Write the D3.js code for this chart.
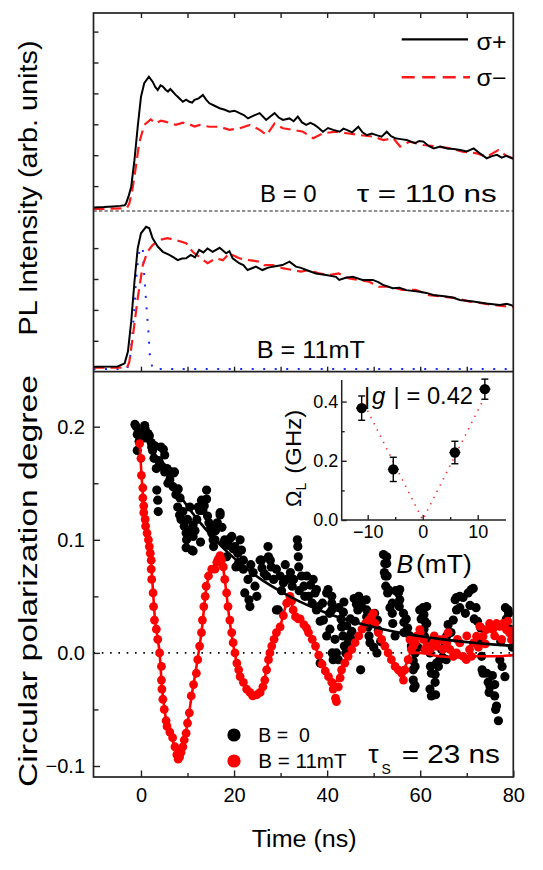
<!DOCTYPE html>
<html><head><meta charset="utf-8">
<script src="https://cdn.jsdelivr.net/npm/d3@7"></script>
<style>
html,body{margin:0;padding:0;background:#fff;}
svg{display:block;font-family:"Liberation Sans",Arial,sans-serif;}
</style></head><body>
<svg id="c" width="543" height="870"></svg>
<script>
// ---------------- DATA ----------------
// PL traces (arb. units), [time ns, intensity]
const plB0Plus = [[-10.2,0.31],[-8,0.32],[-6,0.34],[-4.5,0.36],[-3.5,0.38],[-3.2,0.44],[-2.6,0.7],[-2.1,0.98],[-1.4,1.84],[-0.7,2.92],[0,3.89],[0.7,4.33],[1.7,4.54],[2.5,4.38],[3.1,4.2],[3.6,4.11],[4.2,4.26],[4.7,4.22],[5.3,4.12],[5.8,4.06],[6.3,4.14],[6.8,4.06],[7.4,3.96],[7.9,3.89],[8.5,3.80],[9.0,3.73],[9.7,3.80],[10.4,3.73],[11.0,3.70],[11.5,3.79],[12.4,3.84],[13.3,3.95],[14.0,3.80],[14.7,3.68],[15.8,3.60],[16.9,3.52],[18,3.47],[19,3.41],[20.1,3.44],[21.2,3.36],[22.1,3.30],[23,3.19],[24.2,3.28],[25.5,3.36],[26.9,3.14],[27.8,3.25],[28.7,3.36],[29.6,3.22],[30.5,3.14],[31.9,3.19],[32.8,3.10],[33.7,3.25],[34.6,3.06],[35.5,2.98],[36.4,3.05],[37.3,2.98],[38.2,2.88],[39.1,2.76],[40.2,2.88],[41.3,2.82],[42.7,2.76],[43.5,2.86],[44.2,2.82],[45.4,2.74],[46.7,2.92],[47.6,2.74],[48.5,2.65],[49.6,2.70],[50.6,2.65],[51.7,2.60],[52.8,2.76],[53.7,2.62],[54.6,2.55],[55.8,2.52],[57.1,2.49],[58.0,2.44],[58.9,2.39],[59.8,2.46],[60.7,2.44],[61.8,2.30],[62.9,2.22],[64.3,2.28],[65.8,2.22],[67.2,2.20],[68.6,2.17],[70.0,2.12],[71.5,2.22],[72.9,2.05],[74.3,1.90],[75.4,1.97],[76.5,2.01],[77.5,1.92],[78.5,1.98],[80,1.88]];
const plB0Minus = [[-10.2,0.26],[-6,0.27],[-3,0.29],[-2.5,0.44],[-1.9,0.85],[-1.4,1.30],[-0.4,2.39],[0.7,2.98],[2.1,3.16],[3.2,3.03],[4.3,3.12],[5.4,3.08],[6.5,3.03],[7.5,2.98],[9.0,3.05],[10.4,3.00],[11.5,2.93],[12.6,2.98],[14.7,2.92],[16.9,2.92],[19,2.82],[21.2,2.87],[23.4,2.98],[25.5,2.82],[27,2.65],[28.7,3.03],[30.5,2.87],[32.7,2.82],[34.8,2.76],[37,2.55],[39.1,2.71],[42,2.76],[44.2,2.71],[47,2.65],[49.9,2.60],[52.1,2.49],[54.2,2.55],[55.7,2.28],[57.8,2.44],[60.7,2.33],[63.6,2.28],[66.5,2.22],[69.3,2.11],[72.2,2.06],[74.3,1.95],[76.8,2.17],[78.5,1.98],[80,1.90]];
const plB11Plus = [[-10.2,0.16],[-5,0.17],[-3.5,0.27],[-2.8,0.65],[-2.1,1.62],[-1.4,2.91],[-0.7,3.99],[0,4.48],[1.1,4.69],[1.8,4.64],[2.5,4.32],[3.6,4.05],[4.7,3.88],[6.1,3.78],[7.0,3.70],[7.9,3.61],[8.8,3.66],[9.7,3.67],[10.7,3.78],[11.6,3.70],[12.5,3.94],[13.4,3.86],[14.3,3.99],[15.4,3.88],[16.9,4.01],[17.6,3.92],[18.3,3.83],[19.0,3.90],[19.7,3.67],[21.1,3.51],[22.0,3.45],[22.9,3.29],[24.7,3.40],[26.1,3.29],[27.2,3.36],[28.3,3.40],[30.4,3.45],[31.9,3.56],[33.3,3.40],[34.4,3.36],[35.5,3.29],[37.6,3.18],[39.8,3.13],[41.9,3.07],[42.6,2.97],[44.0,3.04],[45.5,3.07],[47.6,2.97],[49.8,2.97],[51.0,2.90],[52,2.81],[54.1,2.70],[55.5,2.72],[57,2.64],[59.9,2.59],[61.3,2.55],[62.8,2.48],[65.6,2.43],[67.0,2.40],[68.5,2.32],[71.4,2.27],[74.2,2.21],[77.1,2.16],[78.6,2.20],[80,2.13]];
const plB11Minus = [[-10.2,0.13],[-3,0.13],[-2.5,0.32],[-1.8,1.08],[-0.7,2.38],[0.4,3.45],[1.4,3.88],[2.5,4.10],[3.9,4.26],[5.7,4.32],[7.5,4.26],[9.7,4.16],[11.1,3.88],[12.9,3.67],[14.3,3.51],[16.1,3.67],[17.6,3.61],[19,3.83],[21.1,3.67],[23.3,3.61],[25.5,3.56],[26.5,3.45],[28.3,3.45],[30.4,3.35],[32.6,3.29],[34.4,3.24],[36.1,3.29],[38.3,3.18],[40.4,3.13],[42.5,3.18],[44.7,3.02],[46.8,2.97],[49,2.91],[51.1,2.75],[53.6,2.75],[56.1,2.65],[59,2.65],[61.9,2.48],[64.8,2.43],[67.7,2.38],[70.6,2.27],[73.5,2.21],[75.7,2.16],[79.3,2.10],[80,2.09]];
const laserPulse = [[-10.2,0.09],[-3,0.09],[-2.4,0.35],[-1.8,1.29],[-1.4,2.05],[-1.1,2.91],[-0.5,3.78],[0,4.05],[0.4,3.94],[0.7,3.13],[1.2,2.06],[1.6,1.29],[1.9,0.54],[2.5,0.09],[80,0.09]];

// circular polarization degree, B = 0 (points)
const polB0 = [[-1.3,0.202],[-1.0,0.200],[-0.8,0.193],[-0.4,0.187],[-0.8,0.179],[0.2,0.195],[0.8,0.201],[0.9,0.198],[1.0,0.190],[1.5,0.194],[1.8,0.192],[2.2,0.186],[2.3,0.182],[2.5,0.179],[2.8,0.172],[3.0,0.183],[3.3,0.163],[3.4,0.144],[3.6,0.135],[3.7,0.125],[3.8,0.170],[4.0,0.168],[4.3,0.182],[4.5,0.165],[4.8,0.180],[5.1,0.175],[5.1,0.160],[5.6,0.163],[5.8,0.150],[6.2,0.153],[6.5,0.160],[6.9,0.147],[7.0,0.159],[7.2,0.160],[7.5,0.140],[7.9,0.129],[8.0,0.145],[8.3,0.122],[8.4,0.137],[8.6,0.118],[9.0,0.125],[9.3,0.112],[9.7,0.106],[9.7,0.093],[9.8,0.100],[10.0,0.118],[10.2,0.108],[10.5,0.129],[10.9,0.091],[11.2,0.113],[11.2,0.103],[11.2,0.090],[11.6,0.108],[12.0,0.118],[12.3,0.129],[12.6,0.126],[12.8,0.098],[13.0,0.135],[13.3,0.126],[13.6,0.130],[14.1,0.144],[14.1,0.136],[14.3,0.121],[14.6,0.115],[15.0,0.111],[15.2,0.106],[15.5,0.100],[15.6,0.094],[15.9,0.100],[16.0,0.108],[16.4,0.115],[17.0,0.122],[17.0,0.124],[17.4,0.111],[17.7,0.097],[18.0,0.100],[18.4,0.085],[18.8,0.095],[19.1,0.101],[19.5,0.103],[19.8,0.092],[20.2,0.094],[20.4,0.076],[20.8,0.088],[21.0,0.080],[21.3,0.100],[21.6,0.091],[22.0,0.082],[22.0,0.074],[22.3,0.053],[23.0,0.065],[23.2,0.047],[23.4,0.041],[23.6,0.078],[24.1,0.071],[24.5,0.059],[24.9,0.050],[25.6,0.082],[25.9,0.082],[26.0,0.075],[26.5,0.070],[27.0,0.068],[27.3,0.094],[27.4,0.085],[27.8,0.082],[28.0,0.076],[28.5,0.065],[29.1,0.074],[29.1,0.038],[29.5,0.038],[29.9,0.068],[30.2,0.055],[30.6,0.062],[31.0,0.078],[31.3,0.065],[32.1,0.071],[32.5,0.059],[32.8,0.065],[33.6,0.100],[33.7,0.094],[33.8,0.085],[33.9,0.076],[34.0,0.055],[34.5,0.068],[35.0,0.059],[35.2,0.050],[35.6,0.068],[36.0,0.050],[36.4,0.060],[36.8,0.044],[37.0,0.065],[37.4,0.053],[37.7,0.056],[37.7,0.038],[38.2,0.041],[38.5,0.028],[38.5,-0.009],[39.0,0.044],[39.2,0.029],[39.9,0.053],[39.9,0.015],[40.2,0.056],[40.5,0.035],[40.6,0.021],[41.0,0.050],[41.0,0.044],[41.0,0.038],[41.1,0.0],[41.3,-0.006],[41.7,0.012],[42.0,0.0],[42.4,-0.006],[42.5,0.040],[43.0,0.030],[43.1,0.023],[43.4,0.015],[43.5,0.036],[43.6,0.045],[43.7,0.006],[44.0,0.0],[44.2,0.024],[44.6,0.010],[44.8,0.015],[45.0,0.030],[45.3,0.019],[45.3,0.012],[45.8,0.048],[46.0,0.028],[46.3,0.043],[46.6,0.038],[46.8,0.050],[47.0,0.047],[47.2,-0.015],[47.4,0.041],[48.4,0.047],[48.5,0.038],[48.5,0.032],[48.8,0.023],[49.0,0.015],[49.2,0.009],[49.8,0.030],[50.0,0.005],[50.2,0.035],[50.7,0.0],[50.8,0.029],[51.0,0.020],[51.5,0.010],[52.1,0.087],[52.4,0.079],[52.3,0.071],[52.5,0.068],[52.6,0.059],[52.8,0.085],[52.8,0.079],[52.9,0.068],[53.1,0.056],[53.0,0.053],[53.5,0.040],[54.0,0.044],[54.0,0.035],[54.1,0.026],[54.6,0.015],[54.7,0.055],[55.3,0.053],[55.5,0.041],[55.6,0.056],[55.6,0.047],[56.4,0.035],[56.5,0.027],[56.5,0.018],[57.0,0.030],[57.3,0.022],[57.8,0.015],[58.1,0.006],[58.5,-0.007],[58.5,-0.015],[58.5,-0.024],[58.6,-0.031],[58.9,0.0],[58.9,-0.012],[58.9,-0.029],[59.5,0.005],[59.9,0.038],[60.2,0.030],[60.6,0.040],[60.8,0.034],[61.0,0.028],[60.8,0.021],[60.9,0.015],[61.4,0.041],[61.4,0.026],[61.8,0.010],[62.1,0.0],[62.2,-0.012],[62.4,-0.018],[62.1,-0.032],[62.4,-0.038],[62.8,0.006],[63.2,-0.019],[63.2,-0.026],[63.3,-0.037],[63.5,-0.009],[63.9,-0.012],[64.2,-0.006],[64.6,0.003],[64.8,-0.004],[65.3,0.009],[65.6,-0.006],[65.7,0.015],[66.0,0.025],[66.6,0.018],[67.1,0.029],[67.5,0.047],[67.8,0.038],[67.8,0.049],[68.5,0.050],[68.5,0.040],[69.2,0.049],[69.7,0.035],[70.3,0.053],[70.7,0.042],[71.0,0.056],[71.4,0.057],[71.6,0.030],[72.0,0.040],[72.3,0.028],[72.6,0.012],[73.0,0.022],[73.2,-0.003],[73.3,-0.015],[73.5,-0.018],[74.3,-0.018],[74.6,-0.026],[74.8,-0.035],[75.0,-0.030],[75.5,-0.020],[76.0,-0.038],[76.0,-0.028],[76.2,-0.050],[76.4,-0.047],[76.8,-0.060],[77.1,-0.006],[77.3,0.010],[77.6,-0.012],[78.2,-0.021],[78.3,0.040],[78.5,0.030],[78.9,0.038],[79.0,0.035],[79.3,0.021],[79.8,0.005],[80.0,0.012]];

// circular polarization degree, B = 11 mT (points)
const polB11 = [[-0.3,0.185],[0.0,0.172],[0.1,0.157],[0.4,0.146],[0.4,0.137],[0.6,0.130],[0.6,0.124],[0.9,0.118],[1.0,0.112],[1.3,0.106],[1.6,0.100],[1.8,0.094],[2.0,0.088],[2.2,0.082],[2.2,0.074],[2.3,0.065],[2.6,0.053],[2.7,0.041],[2.9,0.029],[3.3,0.021],[3.6,0.012],[4.0,0.0],[4.4,-0.012],[4.4,-0.024],[4.5,-0.032],[4.7,-0.041],[5.0,-0.050],[5.4,-0.060],[5.6,-0.065],[6.2,-0.070],[6.8,-0.075],[7.3,-0.083],[7.7,-0.090],[8.0,-0.094],[8.3,-0.092],[8.6,-0.088],[9.0,-0.083],[9.3,-0.077],[9.7,-0.071],[10.0,-0.062],[10.4,-0.053],[10.8,-0.038],[11.3,-0.028],[11.9,-0.018],[12.2,-0.006],[12.6,0.006],[13.0,0.018],[13.2,0.029],[13.5,0.041],[13.8,0.050],[14.0,0.059],[14.5,0.068],[15.2,0.074],[15.9,0.074],[16.3,0.080],[16.6,0.083],[17.0,0.086],[17.3,0.082],[17.7,0.076],[18.0,0.065],[18.4,0.053],[18.7,0.041],[19.1,0.029],[19.5,0.018],[19.8,0.009],[20.2,0.0],[20.6,-0.009],[21.0,-0.015],[21.3,-0.021],[22.0,-0.026],[22.7,-0.032],[23.4,-0.035],[24.0,-0.038],[24.9,-0.037],[25.6,-0.035],[26.2,-0.030],[26.6,-0.024],[27.0,-0.015],[27.4,-0.006],[27.7,0.0],[28.1,0.006],[28.6,0.012],[29.1,0.018],[29.9,0.023],[30.6,0.033],[31.3,0.044],[32.0,0.050],[32.4,0.046],[32.7,0.038],[33.2,0.032],[33.8,0.030],[34.2,0.030],[35.0,0.025],[35.6,0.022],[36.0,0.018],[36.8,0.012],[37.5,0.006],[38.2,-0.002],[38.9,-0.010],[39.6,-0.016],[40.3,-0.021],[41.0,-0.026],[41.3,-0.032],[41.8,-0.040],[42.0,-0.043],[42.4,-0.030],[42.8,-0.022],[43.1,-0.015],[43.8,-0.009],[44.5,-0.003],[45.3,0.003],[46.0,0.009],[46.8,0.015],[47.5,0.021],[48.2,0.026],[48.9,0.029],[49.5,0.032],[49.9,0.035],[50.3,0.026],[51.0,0.018],[51.7,0.012],[52.4,0.006],[53.1,0.0],[53.8,-0.006],[54.6,-0.012],[55.3,-0.015],[56.0,-0.018],[56.4,-0.024],[56.7,-0.015],[57.4,-0.006],[57.8,0.0117],[58.1,0.003],[58.5,0.0059],[58.9,0.009],[59.2,0.0147],[59.9,0.0206],[60.0,0.018],[60.7,0.0117],[61.0,0.003],[61.4,0.0059],[62.1,0.003],[62.8,0.0088],[63.0,0.015],[63.5,0.0059],[64.2,0.0117],[64.9,0.003],[65.0,0.012],[65.7,0.0088],[66.0,0.018],[66.4,0.003],[67.1,-0.003],[67.8,0.0],[68.0,0.012],[68.5,0.0088],[69.2,-0.003],[69.9,-0.006],[70.0,0.015],[70.6,0.003],[71.0,-0.003],[71.4,0.0088],[72.1,0.0147],[72.5,0.005],[72.8,0.0235],[73.5,0.0147],[74.0,0.008],[74.2,0.0206],[74.9,0.026],[75.6,0.0206],[76.0,0.015],[76.4,0.026],[77.1,0.0235],[77.5,0.012],[77.8,0.026],[78.5,0.0206],[78.8,0.028],[79.2,0.0177],[79.6,0.0117],[80.0,0.020]];

// fit curves
const fitB0 = [[1,0.1915],[2,0.1833],[4,0.1681],[8,0.1413],[12,0.1187],[16,0.0998],[20,0.0838],[24,0.0704],[28,0.0592],[32,0.0498],[36,0.0418],[40,0.0351],[44,0.0295],[48,0.0248],[52,0.0209],[56,0.0175],[60,0.0147],[64,0.0124],[68,0.0104],[72,0.0087],[76,0.0073],[80,0.0062]];
const fitB11 = [[-0.3,0.185],[0,0.165],[0.5,0.135],[1,0.115],[1.5,0.103],[2,0.088],[2.5,0.060],[3,0.030],[3.5,0.015],[4,0.0],[4.5,-0.030],[5,-0.048],[5.5,-0.062],[6,-0.069],[7,-0.080],[8,-0.094],[8.5,-0.090],[9,-0.083],[10,-0.062],[11,-0.035],[12,-0.010],[13,0.018],[14,0.056],[15,0.073],[16,0.078],[17,0.085],[17.5,0.079],[18,0.065],[19,0.030],[20,0.003],[21,-0.016],[22,-0.026],[23,-0.034],[24,-0.038],[25,-0.036],[26,-0.030],[27,-0.015],[28,0.005],[29,0.017],[30,0.025],[31,0.040],[32,0.050],[32.7,0.038],[34,0.030],[35,0.025],[36,0.018],[37,0.009],[38,0.0],[39,-0.011],[40,-0.019],[41,-0.026],[42,-0.025],[43,-0.015],[44,-0.006],[45,0.002],[46,0.009],[47,0.017],[48,0.026],[49,0.030],[50,0.030],[51,0.018],[52,0.009],[53,0.0],[54,-0.007],[55,-0.013],[56,-0.018],[57,-0.010],[58,0.0],[60,0.0],[64,-0.003],[68,-0.004],[72,-0.003],[76,-0.003],[80,-0.002]];

// inset: Larmor frequency vs field
const insetB = [-11.1, -5.35, 5.85, 11.3];
const insetOmega = [0.378, 0.171, 0.228, 0.442];
const insetErr = [0.041, 0.041, 0.038, 0.034];
const insetBErr = [1.0, 1.0, 1.0, 1.0];
const insetFit = [[-10.6,0.391],[0,0],[11.0,0.406]];

const xTicksMajor = [0, 20, 40, 60, 80];
const xTicksMinor = [10, 30, 50, 70];
const yPolMajor = [-0.1, 0.0, 0.1, 0.2];
const yPolMinor = [-0.05, 0.05, 0.15];

// ---------------- DRAW ----------------
const svg = d3.select("#c");
const L = 93.5, R = 513.3, T = 13, MID = 211, SEP = 371.7, B = 777;
const frameCol = "#222";

const x = d3.scaleLinear().domain([-10.2, 80]).range([L, R]);
const yTop = d3.scaleLinear().domain([0, 6]).range([217, 31.6]);
const yMid = d3.scaleLinear().domain([0, 4]).range([SEP, 248.1]);
const yPol = d3.scaleLinear().domain([-0.1, 0.2]).range([766, 426.7]);

const defs = svg.append("defs");
function clip(id, y0, y1) {
  defs.append("clipPath").attr("id", id).append("rect")
    .attr("x", L).attr("y", y0).attr("width", R - L).attr("height", y1 - y0);
}
clip("cTop", T, MID); clip("cMid", MID, SEP); clip("cBot", SEP, B);

const lineTop = d3.line().x(d => x(d[0])).y(d => yTop(d[1]));
const lineMid = d3.line().x(d => x(d[0])).y(d => yMid(d[1]));

// --- top panel (B = 0)
const gTop = svg.append("g").attr("clip-path", "url(#cTop)");
gTop.append("path").attr("d", lineTop(plB0Minus)).attr("fill", "none")
  .attr("stroke", "#ff1a1a").attr("stroke-width", 2.2).attr("stroke-dasharray", "11,6");
gTop.append("path").attr("d", lineTop(plB0Plus)).attr("fill", "none")
  .attr("stroke", "#000").attr("stroke-width", 2);

// --- middle panel (B = 11 mT)
const gMid = svg.append("g").attr("clip-path", "url(#cMid)");
gMid.append("path").attr("d", lineMid(laserPulse)).attr("fill", "none")
  .attr("stroke", "#1a2cff").attr("stroke-width", 2).attr("stroke-dasharray", "2,9.5");
gMid.append("path").attr("d", lineMid(plB11Minus)).attr("fill", "none")
  .attr("stroke", "#ff1a1a").attr("stroke-width", 2.2).attr("stroke-dasharray", "11,6");
gMid.append("path").attr("d", lineMid(plB11Plus)).attr("fill", "none")
  .attr("stroke", "#000").attr("stroke-width", 2);

// dashed separator
svg.append("line").attr("x1", L).attr("x2", R).attr("y1", MID).attr("y2", MID)
  .attr("stroke", "#222").attr("stroke-width", 1).attr("stroke-dasharray", "3.3,2.2");

// --- bottom panel
const gBot = svg.append("g").attr("clip-path", "url(#cBot)");
gBot.append("line").attr("x1", L).attr("x2", R).attr("y1", yPol(0)).attr("y2", yPol(0))
  .attr("stroke", "#000").attr("stroke-width", 1.6).attr("stroke-dasharray", "1.6,6.7");
gBot.append("g").selectAll("circle").data(polB0).join("circle")
  .attr("cx", d => x(d[0])).attr("cy", d => yPol(d[1])).attr("r", 4.6).attr("fill", "#000");
gBot.append("g").selectAll("circle").data(polB11).join("circle")
  .attr("cx", d => x(d[0])).attr("cy", d => yPol(d[1])).attr("r", 4.4).attr("fill", "#ff0000");
const linePol = d3.line().x(d => x(d[0])).y(d => yPol(d[1])).curve(d3.curveMonotoneX);
gBot.append("path").attr("d", linePol(fitB11)).attr("fill", "none")
  .attr("stroke", "#ff0000").attr("stroke-width", 2.6);
gBot.append("path").attr("d", linePol(fitB0)).attr("fill", "none")
  .attr("stroke", "#000").attr("stroke-width", 2.6);

// --- axes / ticks
function styleAxis(g) {
  g.select(".domain").remove();
  g.selectAll(".tick line").attr("stroke", frameCol).attr("stroke-width", 1.4);
  g.selectAll("text").attr("fill", "#000").attr("font-family", '"Liberation Sans",Arial,sans-serif');
}
// bottom time axis
svg.append("g").attr("transform", `translate(0,${B})`)
  .call(d3.axisBottom(x).tickValues(xTicksMajor).tickSize(-6.5).tickPadding(10.5).tickFormat(d3.format("d")))
  .call(styleAxis).call(g => g.selectAll("text").attr("font-size", 20));
svg.append("g").attr("transform", `translate(0,${B})`)
  .call(d3.axisBottom(x).tickValues(xTicksMinor).tickSize(-4).tickFormat(""))
  .call(styleAxis);
// polarization y axis
svg.append("g").attr("transform", `translate(${L},0)`)
  .call(d3.axisLeft(yPol).tickValues(yPolMajor).tickSize(-6.5).tickPadding(8.5).tickFormat(d3.format(".1f")))
  .call(styleAxis).call(g => g.selectAll("text").attr("font-size", 20));
svg.append("g").attr("transform", `translate(${L},0)`)
  .call(d3.axisLeft(yPol).tickValues(yPolMinor).tickSize(-5).tickFormat(""))
  .call(styleAxis);
// PL y ticks (no labels)
svg.append("g").attr("transform", `translate(${L},0)`)
  .call(d3.axisLeft(yTop).tickValues([1, 2, 3, 4, 5, 6]).tickSize(-5).tickFormat(""))
  .call(styleAxis);
svg.append("g").attr("transform", `translate(${L},0)`)
  .call(d3.axisLeft(yMid).tickValues([1, 2, 3, 4]).tickSize(-5).tickFormat(""))
  .call(styleAxis);
// time ticks at top of frame and bottom of PL panel
const plTimeTicks = [0, 10, 20, 30, 40, 50, 60, 70];
svg.append("g").attr("transform", `translate(0,${T})`)
  .call(d3.axisTop(x).tickValues(plTimeTicks).tickSize(-5).tickFormat(""))
  .call(styleAxis);
svg.append("g").attr("transform", `translate(0,${SEP})`)
  .call(d3.axisBottom(x).tickValues(plTimeTicks).tickSize(-5).tickFormat(""))
  .call(styleAxis);

// frame
svg.append("rect").attr("x", L).attr("y", T).attr("width", R - L).attr("height", B - T)
  .attr("fill", "none").attr("stroke", frameCol).attr("stroke-width", 1.7);
svg.append("line").attr("x1", L).attr("x2", R).attr("y1", SEP).attr("y2", SEP)
  .attr("stroke", frameCol).attr("stroke-width", 1.7);

// --- texts
function txt(s, xx, yy, size, opts = {}) {
  const t = svg.append("text").attr("x", xx).attr("y", yy).attr("font-size", size)
    .attr("fill", "#000").text(s);
  if (opts.anchor) t.attr("text-anchor", opts.anchor);
  if (opts.len) t.attr("textLength", opts.len).attr("lengthAdjust", "spacingAndGlyphs");
  if (opts.italic) t.attr("font-style", "italic");
  return t;
}
// legend top
svg.append("line").attr("x1", 401.7).attr("x2", 468).attr("y1", 39.3).attr("y2", 39.3)
  .attr("stroke", "#000").attr("stroke-width", 2.2);
svg.append("line").attr("x1", 401.7).attr("x2", 470).attr("y1", 77.3).attr("y2", 77.3)
  .attr("stroke", "#ff1a1a").attr("stroke-width", 2.4).attr("stroke-dasharray", "13,7.5");
txt("σ+", 476.5, 50, 23, {len: 30});
txt("σ−", 476.5, 86, 23, {len: 30});
txt("B = 0", 260, 201.7, 23, {len: 56.7});
txt("τ = 110 ns", 356.7, 201.7, 23.5, {len: 140});
txt("B = 11mT", 256.7, 358.3, 23, {len: 108.3});

// bottom legend
svg.append("circle").attr("cx", 234).attr("cy", 735).attr("r", 6.6).attr("fill", "#000");
svg.append("circle").attr("cx", 234).attr("cy", 761).attr("r", 6.6).attr("fill", "#ff0000");
txt("B =  0", 258.3, 742.3, 19.5).attr("xml:space", "preserve").style("white-space", "pre");
txt("B = 11mT", 258.3, 768.3, 19.5, {len: 88.3});
txt("τ", 368.3, 763.3, 26);
txt("S", 381.5, 774.3, 14);
txt("= 23 ns", 401.7, 763.3, 26, {len: 98.3});

// axis titles
txt("Time (ns)", 304.2, 846.7, 23, {anchor: "middle", len: 105});
svg.append("text").attr("transform", "translate(37,188) rotate(-90)")
  .attr("text-anchor", "middle").attr("font-size", 26).attr("textLength", 295)
  .attr("lengthAdjust", "spacingAndGlyphs").text("PL Intensity (arb. units)");
svg.append("text").attr("transform", "translate(37,581) rotate(-90)")
  .attr("text-anchor", "middle").attr("font-size", 26).attr("textLength", 412)
  .attr("lengthAdjust", "spacingAndGlyphs").text("Circular polarization degree");

// --- inset
const xIn = d3.scaleLinear().domain([-10, 10]).range([367.7, 477.7]);
const yIn = d3.scaleLinear().domain([0, 0.4]).range([520, 401.6]);
const inL = 341.7, inR = 506, inT = 380, inB = 520;
const gIn = svg.append("g");
gIn.append("path").attr("d", d3.line().x(d => xIn(d[0])).y(d => yIn(d[1]))(insetFit))
  .attr("fill", "none").attr("stroke", "#ff3030").attr("stroke-width", 1.6)
  .attr("stroke-dasharray", "1.5,5.5");
gIn.append("g").attr("transform", `translate(0,${inB})`)
  .call(d3.axisBottom(xIn).tickValues([-10, 0, 10]).tickSize(-5).tickPadding(5.5).tickFormat(d3.format("d")))
  .call(styleAxis).call(g => g.selectAll("text").attr("font-size", 18));
gIn.append("g").attr("transform", `translate(0,${inB})`)
  .call(d3.axisBottom(xIn).tickValues([-5, 5]).tickSize(-3).tickFormat(""))
  .call(styleAxis);
gIn.append("g").attr("transform", `translate(${inL},0)`)
  .call(d3.axisLeft(yIn).tickValues([0, 0.2, 0.4]).tickSize(-5).tickPadding(3.4).tickFormat(d3.format(".1f")))
  .call(styleAxis).call(g => g.selectAll("text").attr("font-size", 18));
gIn.append("g").attr("transform", `translate(${inL},0)`)
  .call(d3.axisLeft(yIn).tickValues([0.1, 0.3]).tickSize(-3).tickFormat(""))
  .call(styleAxis);
gIn.append("path").attr("d", `M${inL},${inT}V${inB}H${inR}`).attr("fill", "none")
  .attr("stroke", frameCol).attr("stroke-width", 1.5);
const pts = insetB.map((b, i) => ({b, w: insetOmega[i], e: insetErr[i], eb: insetBErr[i]}));
const gp = gIn.append("g");
pts.forEach(p => {
  const cx = xIn(p.b), cy = yIn(p.w), y0 = yIn(p.w - p.e), y1 = yIn(p.w + p.e);
  gp.append("line").attr("x1", cx).attr("x2", cx).attr("y1", y0).attr("y2", y1).attr("stroke", "#000").attr("stroke-width", 1.4);
  gp.append("line").attr("x1", cx - 3.5).attr("x2", cx + 3.5).attr("y1", y0).attr("y2", y0).attr("stroke", "#000").attr("stroke-width", 1.4);
  gp.append("line").attr("x1", cx - 3.5).attr("x2", cx + 3.5).attr("y1", y1).attr("y2", y1).attr("stroke", "#000").attr("stroke-width", 1.4);
  gp.append("line").attr("x1", xIn(p.b - p.eb)).attr("x2", xIn(p.b + p.eb)).attr("y1", cy).attr("y2", cy).attr("stroke", "#000").attr("stroke-width", 1.4);
  gp.append("circle").attr("cx", cx).attr("cy", cy).attr("r", 5.2).attr("fill", "#000");
});
txt("|", 364, 403.5, 24);
txt("g", 372, 403.5, 24, {italic: true});
txt("|", 393.5, 403.5, 24);
txt("= 0.42", 406.5, 403.5, 23.5, {len: 66.5});
txt("B", 396.5, 573.3, 25, {italic: true});
txt("(mT)", 416, 573.3, 25, {len: 55.7});
const om = svg.append("text").attr("transform", "translate(300.5,507) rotate(-90)")
  .attr("font-size", 22).attr("fill", "#000");
om.append("tspan").text("Ω");
om.append("tspan").attr("font-size", 14).attr("dy", 5).text("L");
om.append("tspan").attr("dy", -5).attr("dx", 9).attr("textLength", 64).attr("lengthAdjust", "spacingAndGlyphs").text("(GHz)");
</script>
</body></html>
